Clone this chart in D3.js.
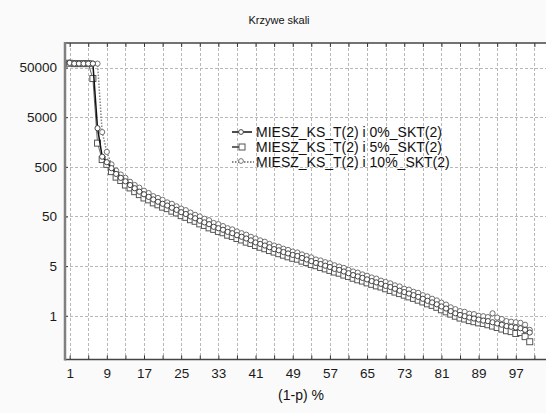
<!DOCTYPE html>
<html>
<head>
<meta charset="utf-8">
<script src="https://cdn.jsdelivr.net/npm/d3@7/dist/d3.min.js"></script>
<style>
  html, body { margin: 0; padding: 0; background: #fafafa; }
  svg { display: block; font-family: "Liberation Sans", Arial, sans-serif; }
</style>
</head>
<body>
<svg id="chart" width="546" height="413"></svg>
<script>
// Percent positions (1-p) %
const xValues = d3.range(1, 101);

// MIESZ_KS_T(2) i 0%_SKT(2)
const series0 = [
  62000, 60000, 60000, 60000, 60000, 60000, 3000, 800, 620, 470,
  360, 300, 255, 215, 185, 158, 140, 124, 110, 99,
  90, 83, 75, 68, 61, 56, 50, 46, 41, 38,
  35, 31, 29, 27, 24.5, 23, 21, 19.5, 18, 16.5,
  15, 14, 13, 12, 11, 10.4, 9.6, 9, 8.4, 8,
  7.3, 6.8, 6.3, 5.8, 5.5, 5.1, 4.8, 4.4, 4.2, 3.9,
  3.6, 3.3, 3.1, 2.9, 2.7, 2.5, 2.35, 2.2, 2.0, 1.9,
  1.75, 1.6, 1.5, 1.4, 1.3, 1.2, 1.1, 1.0, 0.93, 0.85,
  0.77, 0.7, 0.62, 0.56, 0.52, 0.49, 0.46, 0.44, 0.42, 0.40,
  0.39, 0.37, 0.35, 0.33, 0.31, 0.30, 0.29, 0.28, 0.26, 0.23
];

// MIESZ_KS_T(2) i 5%_SKT(2)
const series5 = [
  61000, 60000, 60000, 60000, 60000, 30000, 1500, 700, 560, 400,
  310, 265, 215, 188, 158, 138, 118, 108, 94, 86,
  77, 72, 64, 59, 52, 48, 43, 40, 35.5, 33,
  29.5, 27.5, 25, 23.5, 21, 19.8, 18, 16.8, 15.2, 14.3,
  13, 12, 11.2, 10.3, 9.6, 8.9, 8.3, 7.7, 7.2, 6.9,
  6.3, 5.9, 5.4, 5.1, 4.7, 4.4, 4.1, 3.8, 3.6, 3.3,
  3.1, 2.85, 2.65, 2.5, 2.3, 2.15, 2.0, 1.9, 1.75, 1.62,
  1.5, 1.4, 1.3, 1.2, 1.12, 1.03, 0.95, 0.87, 0.81, 0.74,
  0.66, 0.6, 0.54, 0.49, 0.45, 0.43, 0.4, 0.38, 0.36, 0.35,
  0.33, 0.31, 0.29, 0.27, 0.25, 0.24, 0.22, 0.23, 0.19, 0.15
];

// MIESZ_KS_T(2) i 10%_SKT(2)
const series10 = [
  63000, 60000, 60000, 60000, 60000, 60000, 60000, 2500, 1000, 560,
  420, 350, 300, 250, 215, 190, 165, 148, 128, 118,
  108, 96, 90, 80, 72, 67, 60, 54, 50, 45,
  42, 37, 35, 32, 29, 27.5, 25, 23, 21.5, 19.5,
  18, 16.5, 15.5, 14, 13, 12.3, 11.2, 10.6, 9.8, 9.4,
  8.6, 8, 7.5, 6.8, 6.5, 6, 5.7, 5.2, 4.9, 4.6,
  4.2, 3.9, 3.7, 3.4, 3.2, 2.95, 2.8, 2.55, 2.4, 2.25,
  2.05, 1.95, 1.75, 1.68, 1.52, 1.45, 1.3, 1.22, 1.1, 1.02,
  0.92, 0.84, 0.74, 0.68, 0.62, 0.6, 0.55, 0.54, 0.5, 0.49,
  0.47, 0.56, 0.46, 0.43, 0.39, 0.38, 0.37, 0.36, 0.33, 0.26
];

const seriesNames = [
  "MIESZ_KS_T(2) i 0%_SKT(2)",
  "MIESZ_KS_T(2) i 5%_SKT(2)",
  "MIESZ_KS_T(2) i 10%_SKT(2)"
];

const xTickLabels = [1, 9, 17, 25, 33, 41, 49, 57, 65, 73, 81, 89, 97];
const xGridValues = d3.range(1, 102, 4);
const yTickValues = [50000, 5000, 500, 50, 5, 0.5];
const yTickLabels = ["50000", "5000", "500", "50", "5", "1"];

const titleText = "Krzywe skali";
const xTitleText = "(1-p) %";

const svg = d3.select("#chart");
const plotL = 65, plotR = 546, plotT = 43, plotB = 359.5;

const x = d3.scaleLinear().domain([0, 103.5]).range([plotL, plotR]);
const y = d3.scaleLog().domain([0.0658, 156000]).range([plotB, plotT]);

// plot background
svg.append("rect")
  .attr("x", plotL).attr("y", plotT)
  .attr("width", plotR - plotL).attr("height", plotB - plotT)
  .attr("fill", "#ffffff");

// grid
const grid = svg.append("g").attr("stroke", "#b8b8b8").attr("stroke-width", 1)
  .attr("stroke-dasharray", "3,2");
grid.selectAll("line.v").data(xGridValues).join("line").attr("class", "v")
  .attr("x1", d => Math.round(x(d)) + 0.5).attr("x2", d => Math.round(x(d)) + 0.5)
  .attr("y1", plotT).attr("y2", plotB);
grid.selectAll("line.h").data(yTickValues).join("line").attr("class", "h")
  .attr("x1", plotL).attr("x2", plotR)
  .attr("y1", d => Math.round(y(d)) + 0.5).attr("y2", d => Math.round(y(d)) + 0.5);

// axes: bottom ticks point up, top ticks point down
const xAxisBottom = d3.axisBottom(x).tickValues(xGridValues)
  .tickSize(-4).tickFormat(d => xTickLabels.includes(d) ? d : "").tickPadding(9);
const gB = svg.append("g").attr("transform", `translate(0,${plotB})`).call(xAxisBottom);
gB.select(".domain").remove();
gB.selectAll(".tick line").attr("stroke", "#333");
gB.selectAll(".tick text").attr("font-size", 13.5).attr("fill", "#1a1a1a")
  .attr("font-family", "Liberation Sans, Arial, sans-serif");

const xAxisTop = d3.axisTop(x).tickValues(xGridValues).tickSize(-4).tickFormat("");
const gT = svg.append("g").attr("transform", `translate(0,${plotT})`).call(xAxisTop);
gT.select(".domain").remove();
gT.selectAll(".tick line").attr("stroke", "#333");

const yAxis = d3.axisLeft(y).tickValues(yTickValues).tickSize(-3)
  .tickFormat((d, i) => yTickLabels[i]).tickPadding(8);
const gL = svg.append("g").attr("transform", `translate(${plotL},0)`).call(yAxis);
gL.select(".domain").remove();
gL.selectAll(".tick line").attr("stroke", "#333");
gL.selectAll(".tick text").attr("font-size", 13.5).attr("fill", "#1a1a1a")
  .attr("font-family", "Liberation Sans, Arial, sans-serif");

// frame lines
svg.append("line").attr("x1", plotL).attr("x2", plotR).attr("y1", plotT).attr("y2", plotT)
  .attr("stroke", "#444").attr("stroke-width", 1.5);
svg.append("line").attr("x1", plotL).attr("x2", plotR).attr("y1", plotB).attr("y2", plotB)
  .attr("stroke", "#444").attr("stroke-width", 1.5);
svg.append("line").attr("x1", plotL).attr("x2", plotL).attr("y1", plotT - 1).attr("y2", plotB + 1)
  .attr("stroke", "#808080").attr("stroke-width", 2.5);

// series
const line = d3.line().x((d, i) => x(xValues[i])).y(d => y(d));
const marks = svg.append("g");

function circles(data, stroke) {
  marks.append("g").selectAll("circle").data(data).join("circle")
    .attr("cx", (d, i) => x(xValues[i])).attr("cy", d => y(d)).attr("r", 2.6)
    .attr("fill", "#fff").attr("stroke", stroke).attr("stroke-width", 1);
}
function squares(data, stroke) {
  marks.append("g").selectAll("rect").data(data).join("rect")
    .attr("x", (d, i) => x(xValues[i]) - 3).attr("y", d => y(d) - 3)
    .attr("width", 6).attr("height", 6)
    .attr("fill", "#fff").attr("stroke", stroke).attr("stroke-width", 1);
}

marks.append("path").datum(series10).attr("d", line).attr("fill", "none")
  .attr("stroke", "#888").attr("stroke-width", 1.5).attr("stroke-dasharray", "1.5,1.5");
circles(series10, "#707070");
marks.append("path").datum(series5).attr("d", line).attr("fill", "none")
  .attr("stroke", "#666").attr("stroke-width", 1);
squares(series5, "#555");
marks.append("path").datum(series0).attr("d", line).attr("fill", "none")
  .attr("stroke", "#111").attr("stroke-width", 1.5);
circles(series0, "#444");

// legend
const legend = svg.append("g");
const legendY = [132, 147, 162];
legendY.forEach((ly, i) => {
  const g = legend.append("g");
  if (i === 0) {
    g.append("line").attr("x1", 232).attr("x2", 252).attr("y1", ly).attr("y2", ly)
      .attr("stroke", "#111").attr("stroke-width", 1.5);
    g.append("circle").attr("cx", 241).attr("cy", ly).attr("r", 2.4)
      .attr("fill", "#fff").attr("stroke", "#444");
  } else if (i === 1) {
    g.append("line").attr("x1", 232).attr("x2", 240).attr("y1", ly).attr("y2", ly)
      .attr("stroke", "#333").attr("stroke-width", 1.5);
    g.append("rect").attr("x", 239).attr("y", ly - 3).attr("width", 6).attr("height", 6)
      .attr("fill", "#fff").attr("stroke", "#555");
  } else {
    g.append("line").attr("x1", 232).attr("x2", 254).attr("y1", ly).attr("y2", ly)
      .attr("stroke", "#888").attr("stroke-width", 2).attr("stroke-dasharray", "1.5,1.5");
    g.append("circle").attr("cx", 241).attr("cy", ly - 1).attr("r", 2.4)
      .attr("fill", "#fff").attr("stroke", "#777");
  }
  g.append("text").attr("x", 256).attr("y", ly + 5).attr("font-size", 14)
    .attr("fill", "#111").text(seriesNames[i]);
});

// titles
svg.append("text").attr("x", 279).attr("y", 24).attr("text-anchor", "middle")
  .attr("font-size", 11).attr("fill", "#111").text(titleText);
svg.append("text").attr("x", 301).attr("y", 400).attr("text-anchor", "middle")
  .attr("font-size", 14).attr("fill", "#111").text(xTitleText);
</script>
</body>
</html>
